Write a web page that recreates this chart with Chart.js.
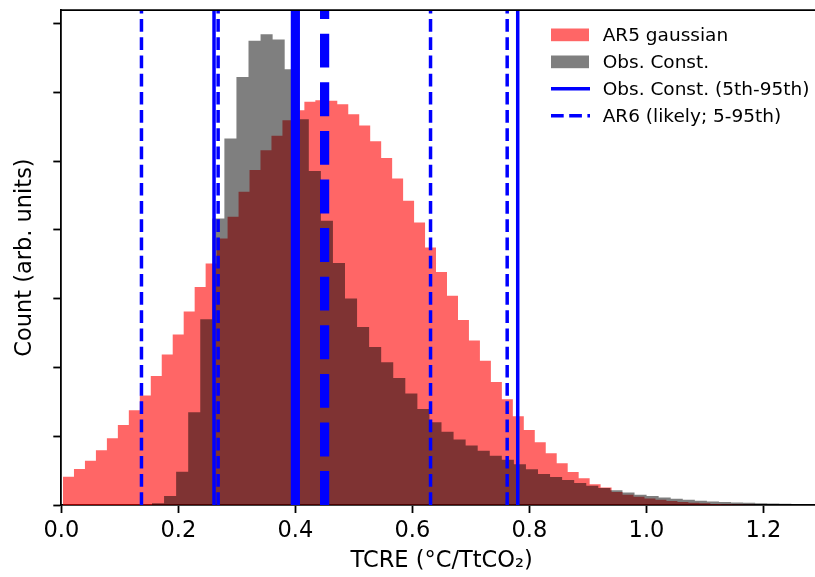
<!DOCTYPE html>
<html>
<head>
<meta charset="utf-8">
<script src="https://cdn.jsdelivr.net/npm/chart.js@4.4.0/dist/chart.umd.min.js"></script>
<style>
html, body { margin: 0; padding: 0; background: #fff; overflow: hidden; }
#wrap { position: relative; width: 822px; height: 577px; }
</style>
</head>
<body>
<div id="wrap"><canvas id="myChart"></canvas></div>
<script>
// histogram bins (x in degC/TtCO2), heights in arbitrary count units
const ar5BinStart = 0.0029;
const ar5BinWidth = 0.01875;
const ar5Counts = [
  0.41, 0.523, 0.644, 0.795, 0.969, 1.163, 1.376, 1.594, 1.875, 2.19,
  2.48, 2.815, 3.17, 3.51, 3.876, 4.19, 4.554, 4.87, 5.16, 5.37,
  5.596, 5.741, 5.862, 5.887, 5.877, 5.826, 5.681, 5.518, 5.288, 5.044,
  4.748, 4.423, 4.109, 3.746, 3.387, 3.042, 2.689, 2.393, 2.098, 1.788,
  1.536, 1.29, 1.09, 0.911, 0.751, 0.606, 0.48, 0.39, 0.30, 0.254,
  0.19, 0.15, 0.12, 0.095, 0.075, 0.058, 0.042, 0.032, 0.024, 0.016,
  0.01, 0.006, 0.003
];

const obsBinStart = 0.155;
const obsBinWidth = 0.020615;
const obsCounts = [
  0.025, 0.13, 0.484, 1.35, 2.70, 4.167, 5.33, 6.225, 6.75, 6.846,
  6.77, 6.337, 5.61, 4.855, 4.133, 3.52, 3.004, 2.59, 2.297, 2.074,
  1.846, 1.623, 1.395, 1.202, 1.066, 0.954, 0.867, 0.79, 0.717, 0.659,
  0.591, 0.519, 0.45, 0.407, 0.363, 0.32, 0.281, 0.247, 0.213, 0.18,
  0.15, 0.13, 0.11, 0.092, 0.075, 0.063, 0.052, 0.044, 0.037, 0.031,
  0.026, 0.022, 0.019, 0.016, 0.013
];

// vertical reference lines
const obsRange = [0.261, 0.780];          // Obs. Const. 5th-95th
const obsCentral = [0.400];
const ar6Range = [0.137, 0.268, 0.631, 0.762]; // AR6 likely / 5-95th
const ar6Central = [0.450];

const xTickLabels = ['0.0', '0.2', '0.4', '0.6', '0.8', '1.0', '1.2'];
const yTickValues = [0, 1, 2, 3, 4, 5, 6, 7];
const xMax = 1.3;
const yMax = 7.195;

const legendLabels = ['AR5 gaussian', 'Obs. Const.', 'Obs. Const. (5th-95th)', 'AR6 (likely; 5-95th)'];

const FONT = 'DejaVu Sans';
const RED = 'rgba(255,0,0,0.6)';
const GREY = 'rgba(0,0,0,0.5)';

function histPoints(start, width, counts) {
  const pts = [{x: start, y: 0}];
  counts.forEach((c, i) => pts.push({x: start + i * width, y: c}));
  pts.push({x: start + counts.length * width, y: 0});
  return pts;
}

function vline(x, width, dash) {
  return {
    data: [{x: x, y: 0}, {x: x, y: yMax}],
    borderColor: 'blue',
    borderWidth: width,
    borderDash: dash,
    borderCapStyle: 'butt',
    pointRadius: 0,
    fill: false,
    clip: 0,
    order: 0
  };
}

const datasets = [
  {
    label: legendLabels[0],
    data: histPoints(ar5BinStart, ar5BinWidth, ar5Counts),
    stepped: 'before',
    fill: 'origin',
    backgroundColor: RED,
    borderColor: 'rgba(0,0,0,0)',
    borderWidth: 0,
    pointRadius: 0,
    order: 2
  },
  {
    label: legendLabels[1],
    data: histPoints(obsBinStart, obsBinWidth, obsCounts),
    stepped: 'before',
    fill: 'origin',
    backgroundColor: GREY,
    borderColor: 'rgba(0,0,0,0)',
    borderWidth: 0,
    pointRadius: 0,
    order: 1
  }
];
obsRange.forEach(v => datasets.push(vline(v, 3.5, [])));
obsCentral.forEach(v => datasets.push(vline(v, 9.2, [])));
ar6Range.forEach(v => datasets.push(vline(v, 3.5, [12.7, 5.5])));
ar6Central.forEach(v => datasets.push(vline(v, 9.2, [33.9, 14.7])));

// legend drawn inside the axes, upper right, no frame
const legendStyles = [
  {patch: RED}, {patch: GREY}, {dash: []}, {dash: [12.7, 5.5]}
];
const innerLegend = {
  id: 'innerLegend',
  afterDraw(chart) {
    const ctx = chart.ctx, area = chart.chartArea;
    const x0 = area.right - 271, textX = area.right - 219.3;
    ctx.save();
    ctx.font = '18.5px "' + FONT + '"';
    ctx.textBaseline = 'alphabetic';
    ctx.textAlign = 'left';
    legendLabels.forEach((label, i) => {
      const base = area.top + 30.7 + 27 * i;
      const st = legendStyles[i];
      if (st.patch) {
        ctx.fillStyle = st.patch;
        ctx.fillRect(x0, base - 12.4, 38, 12.7);
      } else {
        ctx.beginPath();
        ctx.setLineDash(st.dash);
        ctx.lineCap = 'butt';
        ctx.lineWidth = 3.5;
        ctx.strokeStyle = 'blue';
        ctx.moveTo(x0, base - 6.2);
        ctx.lineTo(x0 + 39, base - 6.2);
        ctx.stroke();
        ctx.setLineDash([]);
      }
      ctx.fillStyle = '#000';
      ctx.fillText(label, textX, base);
    });
    ctx.restore();
  }
};

// top spine (right spine falls outside the picture)
const topSpine = {
  id: 'topSpine',
  afterDraw(chart) {
    const ctx = chart.ctx, area = chart.chartArea;
    ctx.save();
    ctx.strokeStyle = '#000';
    ctx.lineWidth = 1.8;
    ctx.beginPath();
    ctx.moveTo(area.left - 0.9, area.top);
    ctx.lineTo(area.right, area.top);
    ctx.stroke();
    ctx.restore();
  }
};

const config = {
  type: 'line',
  data: { datasets: datasets },
  options: {
    responsive: true,
    maintainAspectRatio: false,
    animation: false,
    events: [],
    layout: { padding: { top: 10, left: 0, right: 0, bottom: 0 } },
    plugins: { legend: { display: false }, tooltip: { enabled: false } },
    scales: {
      x: {
        type: 'linear',
        min: 0,
        max: xMax,
        z: 1,
        afterFit: s => { s.height = 72; },
        afterBuildTicks: s => { s.ticks = xTickLabels.map(t => ({value: parseFloat(t)})); },
        ticks: {
          callback: v => v.toFixed(1),
          color: '#000',
          font: { family: FONT, size: 22.5 },
          padding: 5,
          maxRotation: 0,
          autoSkip: false,
          includeBounds: false
        },
        grid: { display: true, drawOnChartArea: false, drawTicks: true, tickLength: 8, tickWidth: 1.8, tickColor: '#000' },
        border: { display: true, color: '#000', width: 1.8 },
        title: {
          display: true,
          text: 'TCRE (°C/TtCO₂)',
          color: '#000',
          font: { family: FONT, size: 22.5 },
          padding: { top: 0, bottom: 2 }
        }
      },
      y: {
        type: 'linear',
        min: 0,
        max: yMax,
        z: 1,
        afterFit: s => { s.width = 61.3; },
        afterBuildTicks: s => { s.ticks = yTickValues.map(v => ({value: v})); },
        ticks: { callback: () => '', includeBounds: false },
        grid: { display: true, drawOnChartArea: false, drawTicks: true, tickLength: 8, tickWidth: 1.8, tickColor: '#000' },
        border: { display: true, color: '#000', width: 1.8 },
        title: {
          display: true,
          text: 'Count (arb. units)',
          color: '#000',
          font: { family: FONT, size: 22.5 },
          padding: { top: 12, bottom: 0 }
        }
      }
    }
  },
  plugins: [innerLegend, topSpine]
};

const myChart = new Chart(document.getElementById('myChart'), config);
</script>
</body>
</html>
